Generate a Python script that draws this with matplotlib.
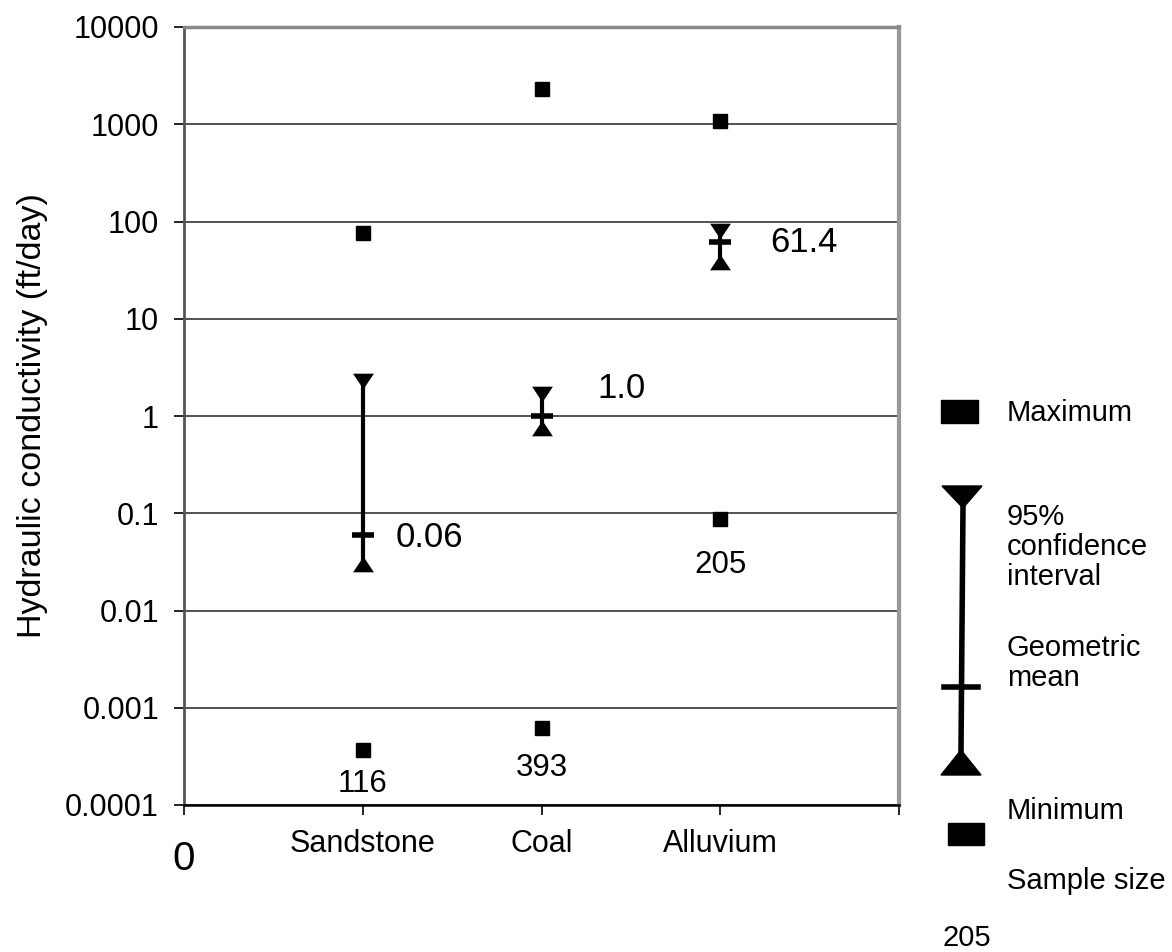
import numpy as np
import matplotlib.pyplot as plt
from matplotlib.patches import Rectangle, Polygon

plt.rcParams['font.family'] = ['Liberation Sans', 'DejaVu Sans']

# hydraulic conductivity summary, ft/day
rocks = ['Sandstone', 'Coal', 'Alluvium']
k_max = [76, 2300, 1080]
k_min = [0.00037, 0.00062, 0.087]
ci_hi = [2.3, 1.68, 79]
ci_lo = [0.03, 0.75, 38]
geo_mean = [0.06, 1.0, 61.4]
mean_text = ['0.06', '1.0', '61.4']
n_samples = [116, 393, 205]

W, H = 1172, 952
fig = plt.figure(figsize=(W / 100, H / 100), dpi=100)
ax = fig.add_axes([184 / W, 1 - 805 / H, 715 / W, 778 / H])

xpos = np.arange(1, len(rocks) + 1)

# triangle marker shapes for the interval ends
tri_down = [(-1, 0.75), (1, 0.75), (0, -0.75), (-1, 0.75)]
tri_up = [(-1, -0.75), (1, -0.75), (0, 0.75), (-1, -0.75)]

for i, x in enumerate(xpos):
    ax.plot([x, x], [ci_lo[i], ci_hi[i]], color='black', lw=3, zorder=3)
    ax.plot(x, ci_hi[i], marker=tri_down, ms=15, color='black', mew=0, zorder=4)
    ax.plot(x, ci_lo[i], marker=tri_up, ms=15, color='black', mew=0, zorder=4)
    ax.plot(x, geo_mean[i], marker='_', ms=16, mew=4, color='black', zorder=4)

ax.plot(xpos, k_max, 's', ms=10.5, color='black', zorder=4)
ax.plot(xpos, k_min, 's', ms=10.5, color='black', zorder=4)

# labels for the means and the sample sizes
mean_offsets = [(24, -2), (40, 20), (36, 0)]
n_offsets = [(0, -25), (0, -29), (0, -33)]
for i, x in enumerate(xpos):
    ax.annotate(mean_text[i], (x, geo_mean[i]), xytext=mean_offsets[i],
                textcoords='offset points', ha='left', va='center', fontsize=25)
    ax.annotate(str(n_samples[i]), (x, k_min[i]), xytext=n_offsets[i],
                textcoords='offset points', ha='center', va='center', fontsize=22.5)

ax.set_yscale('log')
ax.set_ylim(1e-4, 1e4)
ax.set_xlim(0, 4)
yt = [1e-4, 1e-3, 1e-2, 0.1, 1, 10, 100, 1000, 10000]
ax.set_yticks(yt)
ax.set_yticklabels(['0.0001', '0.001', '0.01', '0.1', '1', '10', '100', '1000', '10000'])
ax.yaxis.set_minor_locator(plt.NullLocator())
ax.set_xticks([0, 1, 2, 3, 4])
ax.set_xticklabels(['', 'Sandstone', 'Coal', 'Alluvium', ''])
ax.tick_params(axis='both', labelsize=22, length=7, width=1.2, direction='out', color='black')
ax.tick_params(axis='y', pad=11)
ax.tick_params(axis='x', pad=10)
ax.text(0, -0.069, '0', transform=ax.get_xaxis_transform(), ha='center', va='center',
        fontsize=29)

ax.grid(axis='y', color='#222222', lw=1.1)
ax.set_axisbelow(True)
ax.spines['top'].set_color('#888888')
ax.spines['top'].set_linewidth(2.5)
ax.spines['right'].set_color('#999999')
ax.spines['right'].set_linewidth(3)
ax.spines['left'].set_color('#555555')
ax.spines['left'].set_linewidth(2)
ax.spines['bottom'].set_color('black')
ax.spines['bottom'].set_linewidth(1.8)

ax.set_ylabel('Hydraulic conductivity (ft/day)', fontsize=24.5, labelpad=12)

# key on the right, laid out in pixel space
key = fig.add_axes([0, 0, 1, 1], zorder=5)
key.set_xlim(0, W)
key.set_ylim(H, 0)
key.axis('off')

key.add_patch(Rectangle((941, 400), 37, 23, color='black'))
key.text(1007, 413, 'Maximum', fontsize=21, va='center')

key.add_patch(Polygon([(942, 486), (982, 486), (963, 508)], color='black'))
key.plot([963, 961], [505, 752], color='black', lw=4)
key.plot([944, 978], [687, 687], color='black', lw=4)
key.add_patch(Polygon([(941, 775), (981, 775), (961, 750)], color='black'))
key.text(1007, 547, '95%\nconfidence\ninterval', fontsize=21, va='center', linespacing=1.08)
key.text(1007, 663, 'Geometric\nmean', fontsize=21, va='center', linespacing=1.08)

key.text(1007, 811, 'Minimum', fontsize=21, va='center')
key.add_patch(Rectangle((948, 823), 36, 22, color='black'))
key.text(1007, 881, 'Sample size', fontsize=21, va='center')
key.text(967, 938, '205', fontsize=21, ha='center', va='center')

fig.savefig('out.png', dpi=100)
